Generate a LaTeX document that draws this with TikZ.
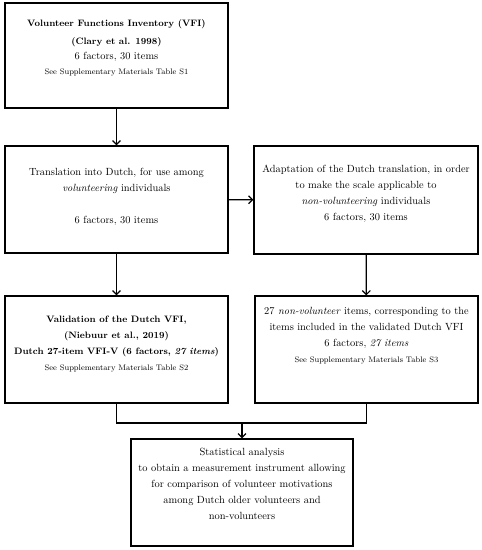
\documentclass[tikz,border=0pt]{standalone}
\usepackage{amsmath}
\usepackage{amssymb}
\usepackage{tikz}
\usetikzlibrary{positioning, arrows, arrows.meta}

\newcommand{\hd}[1]{{\fontsize{9.3}{16}\selectfont\bfseries #1}}

\begin{document}
\begin{tikzpicture}[x=1pt, y=-1pt, line width=1.2pt, >={Straight Barb[length=4pt,width=8pt]},
    box/.style={draw=black, rectangle, inner sep=0pt, minimum width=223pt, minimum height=107pt},
    txt/.style={align=center, inner sep=0pt, font=\fontsize{10.4}{16}\selectfont}]
    \useasboundingbox (0,0) rectangle (482,550);
    % boxes
    \node[box, minimum height=105pt](vfi) at (116.5,55.5) {};
    \node[box](trans) at (116.5,199.5) {};
    \node[box, minimum width=224pt, minimum height=108pt](adapt) at (366,200) {};
    \node[box](val) at (116.5,349.5) {};
    \node[box](items) at (366.5,349.5) {};
    \node[box, minimum width=222pt](stat) at (242,492.5) {};
    % texts
    \node[txt, below=17pt of vfi.north](vfitext) {\hd{Volunteer Functions Inventory (VFI)}\\[2pt]
        \hd{(Clary et al. 1998)}\\[-1pt]
        6 factors, 30 items\\[-1pt]
        {\footnotesize See Supplementary Materials Table S1}};
    \node[txt, below=22pt of trans.north](transtext) {Translation into Dutch, for use among\\
        \textit{volunteering} individuals\\[16pt]
        6 factors, 30 items};
    \node[txt, below=19pt of adapt.north](adapttext) {Adaptation of the Dutch translation, in order\\
        to make the scale applicable to\\
        \textit{non-volunteering} individuals\\
        6 factors, 30 items};
    \node[txt, below=20pt of val.north](valtext) {\hd{Validation of the Dutch VFI,}\\
        \hd{(Niebuur et al., 2019)}\\
        \hd{Dutch 27-item VFI-V (6 factors, \textit{27 items})}\\
        {\footnotesize See Supplementary Materials Table S2}};
    \node[txt, below=11pt of items.north](itemstext) {27 \textit{non-volunteer} items, corresponding to the\\
        items included in the validated Dutch VFI\\
        6 factors, \textit{27 items}\\
        {\footnotesize See Supplementary Materials Table S3}};
    \node[txt, below=9pt of stat.north](stattext) {Statistical analysis\\
        to obtain a measurement instrument allowing\\
        for comparison of volunteer motivations\\
        among Dutch older volunteers and\\
        non-volunteers};
    % arrows
    \coordinate (join) at (242,423);
    \path
        (vfi) edge [->] (trans)
        (trans) edge [->] (adapt)
        (trans) edge [->] (val)
        (adapt) edge [->] (items)
        ;
    \draw (val.south) |- (join) -| (items.south);
    \draw[->] (join) -- (stat);
\end{tikzpicture}
\end{document}
